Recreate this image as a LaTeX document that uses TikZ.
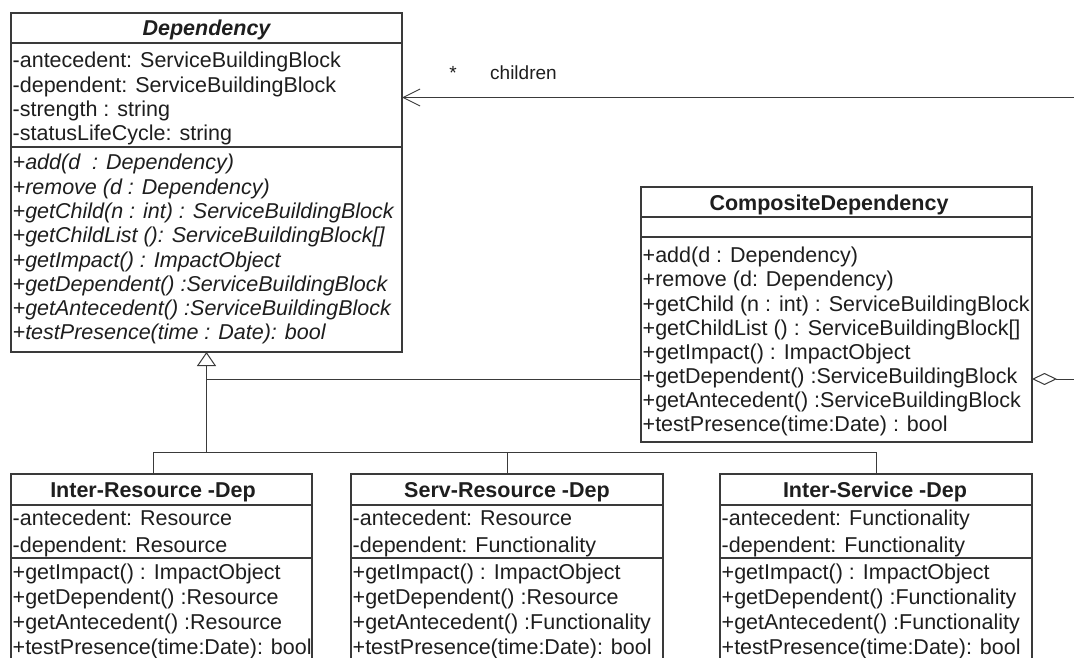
\documentclass[tikz,border=0pt]{standalone}
\usepackage{fontspec}
\setmainfont{Liberation Sans}
\usetikzlibrary{arrows.meta,calc}
\definecolor{ink}{HTML}{1E1E1E}
\definecolor{edge}{HTML}{3A3A3A}
\newcommand\umlsize{\fontsize{21.5}{26}\selectfont}
\newcommand\rolesize{\fontsize{19}{22}\selectfont}

\begin{document}
\begin{tikzpicture}[x=1pt,y=-1pt,
  classbox/.style={draw=edge, line width=1.1pt, inner sep=0pt, outer sep=0pt},
  divider/.style={draw=edge, line width=1.1pt},
  member/.style={anchor=base west, inner sep=0pt, font=\umlsize, text=ink},
  classname/.style={anchor=base, inner sep=0pt, font=\umlsize\bfseries, text=ink},
  rolelabel/.style={inner sep=0pt, font=\rolesize, text=ink},
  conn/.style={draw=edge, line width=1pt},
  inherit/.style={conn, -{Triangle[open, length=14pt, width=19pt, fill=white]}},
  aggregate/.style={conn, {Diamond[open, length=25pt, width=12pt, fill=white]}-{Straight Barb[length=17pt, width=17pt]}}]

\fill[white] (0,0) rectangle (1074,658);
\useasboundingbox (0,0) rectangle (1074,658);

% class boxes
\node[classbox, minimum width=391pt, minimum height=339pt] (dep) at (206.5,182.5) {};
\node[classbox, minimum width=391pt, minimum height=255pt] (comp) at (836.5,314.5) {};
\node[classbox, minimum width=301pt, minimum height=230pt] (ir) at (161.5,589) {};
\node[classbox, minimum width=312pt, minimum height=230pt] (sr) at (507,589) {};
\node[classbox, minimum width=312pt, minimum height=230pt] (is) at (876,589) {};

% compartment dividers
\draw[divider] (dep.west |- 0,43) -- (dep.east |- 0,43);
\draw[divider] (dep.west |- 0,147) -- (dep.east |- 0,147);
\draw[divider] (comp.west |- 0,217) -- (comp.east |- 0,217);
\draw[divider] (comp.west |- 0,237) -- (comp.east |- 0,237);
\foreach \b in {ir,sr,is} {
  \draw[divider] (\b.west |- 0,505) -- (\b.east |- 0,505);
  \draw[divider] (\b.west |- 0,558) -- (\b.east |- 0,558);
}

% class names
\node[classname, font=\umlsize\bfseries\itshape] (dep-name) at (206.5,36) {Dependency};
\node[classname] (comp-name) at (829,210.5) {CompositeDependency};
\node[classname] (ir-name) at (153,497.5) {Inter-Resource -Dep};
\node[classname] (sr-name) at (507,497.5) {Serv-Resource -Dep};
\node[classname] (is-name) at (875,497.5) {Inter-Service -Dep};

% Dependency members
\foreach \m [count=\i from 0] in {{-antecedent: ServiceBuildingBlock},{-dependent: ServiceBuildingBlock},{-strength : string},{-statusLifeCycle: string}}
  \node[member] (dep-a\i) at (12.5,67.8+24.4*\i) {\m};
\foreach \m [count=\i from 0] in {{+add(d \ : Dependency)},{+remove (d : Dependency)},{+getChild(n : int) : ServiceBuildingBlock},{+getChildList (): ServiceBuildingBlock[]},{+getImpact() : ImpactObject},{+getDependent() :ServiceBuildingBlock},{+getAntecedent() :ServiceBuildingBlock},{+testPresence(time : Date): bool}}
  \node[member, font=\umlsize\itshape] (dep-m\i) at (12.5,169.8+24.3*\i) {\m};

% CompositeDependency members
\foreach \m [count=\i from 0] in {{+add(d : Dependency)},{+remove (d: Dependency)},{+getChild (n : int) : ServiceBuildingBlock},{+getChildList () : ServiceBuildingBlock[]},{+getImpact() : ImpactObject},{+getDependent() :ServiceBuildingBlock},{+getAntecedent() :ServiceBuildingBlock},{+testPresence(time:Date) : bool}}
  \node[member] (comp-m\i) at (642.5,262.8+24.1*\i) {\m};

% Inter-Resource-Dep members
\foreach \m [count=\i from 0] in {{-antecedent: Resource},{-dependent: Resource}}
  \node[member] (ir-a\i) at (12.5,525.8+26.5*\i) {\m};
\foreach \m [count=\i from 0] in {{+getImpact() : ImpactObject},{+getDependent() :Resource},{+getAntecedent() :Resource},{+testPresence(time:Date): bool}}
  \node[member] (ir-m\i) at (12.5,579.8+25*\i) {\m};

% Serv-Resource-Dep members
\foreach \m [count=\i from 0] in {{-antecedent: Resource},{-dependent: Functionality}}
  \node[member] (sr-a\i) at (352.5,525.8+26.5*\i) {\m};
\foreach \m [count=\i from 0] in {{+getImpact() : ImpactObject},{+getDependent() :Resource},{+getAntecedent() :Functionality},{+testPresence(time:Date): bool}}
  \node[member] (sr-m\i) at (352.5,579.8+25*\i) {\m};

% Inter-Service-Dep members
\foreach \m [count=\i from 0] in {{-antecedent: Functionality},{-dependent: Functionality}}
  \node[member] (is-a\i) at (721.5,525.8+26.5*\i) {\m};
\foreach \m [count=\i from 0] in {{+getImpact() : ImpactObject},{+getDependent() :Functionality},{+getAntecedent() :Functionality},{+testPresence(time:Date): bool}}
  \node[member] (is-m\i) at (721.5,579.8+25*\i) {\m};

% generalisation tree
\coordinate (hub) at (dep.south |- 0,452);
\draw[inherit] (hub) -- (dep.south);
\draw[conn] ($(ir.north)+(-8.5,0)$) |- (hub);
\draw[conn] (hub) -| (is.north);
\draw[conn] (sr.north) -- (sr.north |- hub);
\draw[conn] (comp.west |- 0,379) -- (dep.south |- 0,379);

% children aggregation
\draw[aggregate] (comp.east |- 0,379) -- ++(60,0) |- (dep.east |- 0,97.5);
\node[rolelabel, anchor=base] (mult) at (453,80) {*};
\node[rolelabel, anchor=base west] (role) at (490,80) {children};
\end{tikzpicture}
\end{document}
